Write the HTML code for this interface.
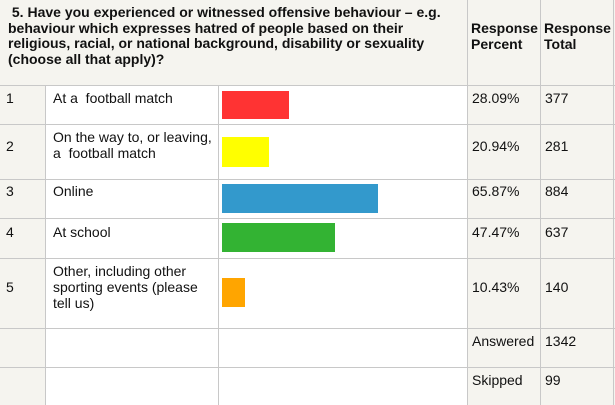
<!DOCTYPE html>
<html><head><style>
body{margin:0;width:615px;height:405px;background:#fff;font-family:"Liberation Sans",Arial,sans-serif;font-size:14px;color:#111;position:relative;overflow:hidden}
div{position:absolute;box-sizing:border-box}
.bg{background:#f5f4ef}
.h{background:#c8c8c8}
.v{background:#c8c8c8;width:1px}
.t{line-height:16px;white-space:nowrap}
.b{font-weight:bold}
</style></head><body>
<div class="bg" style="left:0;top:0;width:615px;height:85px"></div>
<div class="bg" style="left:0;top:85px;width:45px;height:320px"></div>
<div class="bg" style="left:467px;top:85px;width:148px;height:320px"></div>
<div class="h" style="left:0;top:85px;width:615px;height:1px"></div>
<div class="h" style="left:0;top:124px;width:615px;height:1px"></div>
<div class="h" style="left:0;top:179px;width:615px;height:1px"></div>
<div class="h" style="left:0;top:218px;width:615px;height:1px"></div>
<div class="h" style="left:0;top:258px;width:615px;height:1px"></div>
<div class="h" style="left:0;top:328px;width:615px;height:1px"></div>
<div class="h" style="left:0;top:367px;width:615px;height:1px"></div>
<div class="v" style="left:45px;top:85px;height:320px"></div>
<div class="v" style="left:218px;top:85px;height:320px"></div>
<div class="v" style="left:467px;top:0;height:405px"></div>
<div class="v" style="left:540px;top:0;height:405px"></div>
<div class="v" style="left:613px;top:0;height:405px"></div>
<div class="t b" style="left:8px;top:5px;line-height:15.7px">&nbsp;5. Have you experienced or witnessed offensive behaviour – e.g.<br>behaviour which expresses hatred of people based on their<br>religious, racial, or national background, disability or sexuality<br>(choose all that apply)?</div>
<div class="t b" style="left:471px;top:20px">Response<br>Percent</div>
<div class="t b" style="left:544px;top:20px">Response<br>Total</div>
<div class="t" style="left:6px;top:90px">1</div><div class="t" style="left:53px;top:90px">At a &nbsp;football match</div>
<div class="t" style="left:6px;top:138px">2</div><div class="t" style="left:53px;top:129px">On the way to, or leaving,<br>a &nbsp;football match</div>
<div class="t" style="left:6px;top:183px">3</div><div class="t" style="left:53px;top:183px">Online</div>
<div class="t" style="left:6px;top:224px">4</div><div class="t" style="left:53px;top:224px">At school</div>
<div class="t" style="left:6px;top:279px">5</div><div class="t" style="left:53px;top:263px">Other, including other<br>sporting events (please<br>tell us)</div>
<div style="left:222px;top:91px;width:67px;height:28px;background:#ff3333"></div>
<div style="left:222px;top:137px;width:47px;height:30px;background:#ffff00"></div>
<div style="left:222px;top:184px;width:156px;height:29px;background:#3399cc"></div>
<div style="left:222px;top:223px;width:113px;height:29px;background:#33b333"></div>
<div style="left:222px;top:278px;width:23px;height:29px;background:#ffa500"></div>
<div class="t" style="left:472px;top:90px">28.09%</div><div class="t" style="left:545px;top:90px">377</div>
<div class="t" style="left:472px;top:138px">20.94%</div><div class="t" style="left:545px;top:138px">281</div>
<div class="t" style="left:472px;top:183px">65.87%</div><div class="t" style="left:545px;top:183px">884</div>
<div class="t" style="left:472px;top:224px">47.47%</div><div class="t" style="left:545px;top:224px">637</div>
<div class="t" style="left:472px;top:279px">10.43%</div><div class="t" style="left:545px;top:279px">140</div>
<div class="t" style="left:472px;top:333px">Answered</div><div class="t" style="left:545px;top:333px">1342</div>
<div class="t" style="left:472px;top:372px">Skipped</div><div class="t" style="left:545px;top:372px">99</div>
</body></html>
